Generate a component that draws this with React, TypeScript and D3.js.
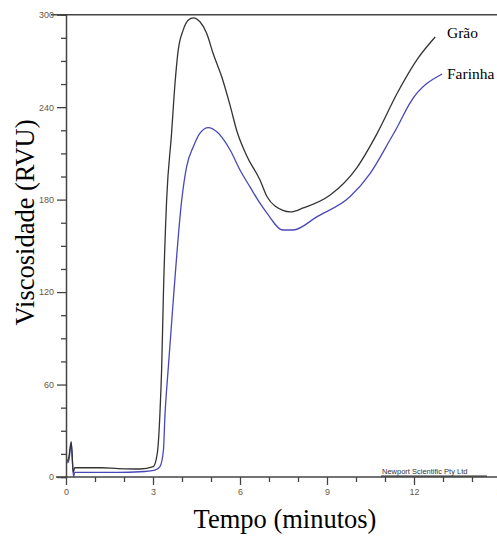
import React, { useRef, useEffect } from "react";
import { select, scaleLinear, line, curveMonotoneX, axisLeft, axisBottom, range } from "d3";

// tempo (minutos) / viscosidade (RVU)
const graoTempo = [0.05, 0.1, 0.18, 0.25, 0.3, 0.6, 1.2, 1.8, 2.55, 3.01, 3.15, 3.24, 3.30, 3.36, 3.47, 3.64, 3.76, 3.87, 4.04, 4.22, 4.39, 4.62, 4.85, 5.07, 5.37, 5.66, 5.9, 6.23, 6.69, 6.93, 7.48, 7.73, 8.18, 9.11, 10.04, 10.73, 11.42, 12.11, 12.73];
const graoValor = [10, 13, 23, 3, 6, 6, 6, 5.5, 5.2, 6.7, 15.6, 41.5, 71.6, 119.4, 179.7, 223, 255.7, 277, 290, 296.5, 298, 295.4, 288, 275, 259.7, 241, 224, 208.5, 192.7, 182, 173, 172, 174.6, 183, 201, 223, 249, 271, 285.5];

const farinhaTempo = [0.05, 0.1, 0.18, 0.26, 0.3, 0.6, 1.2, 1.8, 2.55, 3.07, 3.24, 3.36, 3.41, 3.53, 3.70, 3.99, 4.16, 4.39, 4.62, 4.91, 5.20, 5.66, 6.0, 6.34, 6.62, 6.93, 7.48, 7.83, 8.66, 9.8, 10.49, 11.18, 11.42, 11.87, 12.97];
const farinhaValor = [9, 11, 22, 0, 3, 3, 3, 3, 3.4, 4.5, 6.7, 17.5, 39, 71.6, 114.9, 179.7, 201.4, 214.3, 223.2, 226.7, 224, 212.2, 199.2, 188.4, 179.7, 171.3, 160.3, 160.3, 169, 182, 197, 219, 227, 243, 261.5];

const yTicks = [0, 60, 120, 180, 240, 300];
const xTicks = [0, 3, 6, 9, 12, 15];

export default function App() {
  const svgRef = useRef<SVGSVGElement>(null);
  const width = 497;
  const height = 536;

  useEffect(() => {
    const svg = select(svgRef.current);
    svg.selectAll("*").remove();

    const x = scaleLinear().domain([0, 15]).range([66, 501]);
    const y = scaleLinear().domain([0, 300]).range([477, 14.7]);

    const axisColor = "#444";
    const labelColor = "#6e5640";

    // linha de topo
    svg.append("line")
      .attr("x1", 51).attr("x2", width)
      .attr("y1", y(300)).attr("y2", y(300))
      .attr("stroke", axisColor).attr("stroke-width", 1.5);

    // eixo y
    const gy = svg.append("g").attr("transform", `translate(${x(0)},0)`);
    gy.call(axisLeft(y).tickValues(range(0, 301, 15)).tickSize(5).tickFormat(() => ""));
    gy.selectAll(".tick").filter((d: any) => d % 60 === 0).select("line").attr("x2", -9);
    gy.selectAll(".tick text").remove();
    gy.selectAll(".tick").filter((d: any) => yTicks.includes(d))
      .append("text")
      .attr("x", -12).attr("dy", "0.32em")
      .attr("text-anchor", "end")
      .attr("fill", labelColor)
      .style("font", "9px 'Liberation Sans', Arial, sans-serif")
      .text((d: any) => d);
    gy.select(".domain").attr("stroke", axisColor).attr("stroke-width", 1.5);
    gy.selectAll(".tick line").attr("stroke", axisColor).attr("stroke-width", 1.3);

    // eixo x
    const gx = svg.append("g").attr("transform", `translate(0,${y(0)})`);
    gx.call(axisBottom(x).tickValues(range(0, 16, 1)).tickSize(5).tickFormat(() => ""));
    gx.selectAll(".tick").filter((d: any) => d % 3 === 0).select("line").attr("y2", 8);
    gx.selectAll(".tick text").remove();
    gx.selectAll(".tick").filter((d: any) => xTicks.includes(d))
      .append("text")
      .attr("y", 18)
      .attr("text-anchor", "middle")
      .attr("fill", labelColor)
      .style("font", "9px 'Liberation Sans', Arial, sans-serif")
      .text((d: any) => d);
    gx.select(".domain").remove();
    gx.selectAll(".tick line").attr("stroke", axisColor).attr("stroke-width", 1.3);
    svg.append("line")
      .attr("x1", 56).attr("x2", width)
      .attr("y1", y(0)).attr("y2", y(0))
      .attr("stroke", axisColor).attr("stroke-width", 1.5);

    // marca do equipamento
    svg.append("text")
      .attr("x", 382).attr("y", 473.5)
      .attr("fill", "#333")
      .style("font", "7.5px 'Liberation Sans', Arial, sans-serif")
      .text("Newport Scientific Pty Ltd");
    svg.append("line")
      .attr("x1", 381).attr("x2", 487)
      .attr("y1", 476).attr("y2", 476)
      .attr("stroke", "#222").attr("stroke-width", 1);

    const myLine = line<[number, number]>()
      .x(d => x(d[0]))
      .y(d => y(d[1]))
      .curve(curveMonotoneX);

    const grao = graoTempo.map((t, i) => [t, graoValor[i]] as [number, number]);
    const farinha = farinhaTempo.map((t, i) => [t, farinhaValor[i]] as [number, number]);

    svg.append("path")
      .attr("d", myLine(farinha))
      .attr("fill", "none")
      .attr("stroke", "#4848b8")
      .attr("stroke-width", 1.3);

    svg.append("path")
      .attr("d", myLine(grao))
      .attr("fill", "none")
      .attr("stroke", "#333")
      .attr("stroke-width", 1.3);

    // rótulos das séries
    svg.append("text")
      .attr("x", 447).attr("y", 38)
      .style("font", "15.5px 'Liberation Serif', 'Times New Roman', serif")
      .text("Grão");
    svg.append("text")
      .attr("x", 447).attr("y", 79)
      .style("font", "15.5px 'Liberation Serif', 'Times New Roman', serif")
      .text("Farinha");

    // títulos dos eixos
    svg.append("text")
      .attr("transform", `translate(34,222.5) rotate(-90)`)
      .attr("text-anchor", "middle")
      .style("font", "26.5px 'Liberation Serif', 'Times New Roman', serif")
      .text("Viscosidade (RVU)");
    svg.append("text")
      .attr("x", 285).attr("y", 528)
      .attr("text-anchor", "middle")
      .style("font", "26.5px 'Liberation Serif', 'Times New Roman', serif")
      .text("Tempo (minutos)");
  }, []);

  return (
    <svg ref={svgRef} width={width} height={height}
      style={{ position: "absolute", left: 0, top: 0, background: "#fff" }} />
  );
}
